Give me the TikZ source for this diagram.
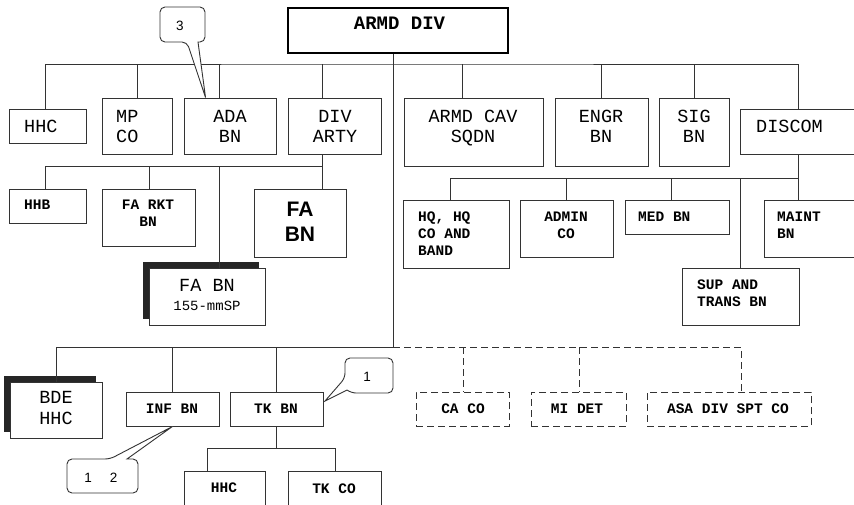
\documentclass[tikz,border=0pt]{standalone}
\usepackage{fontspec}
\setmainfont{Liberation Mono}
\newfontfamily\sansf{Liberation Sans}
\usetikzlibrary{shadows}
\begin{document}
\begin{tikzpicture}[x=1pt,y=-1pt,
  box/.style={draw=black!80, line width=0.9pt, fill=white, inner sep=0pt, rectangle},
  dbox/.style={box, dash pattern=on 7pt off 4pt},
  shbox/.style={box, general shadow={fill=black!85, shadow xshift=-6pt, shadow yshift=6pt}},
  conn/.style={draw=black!80, line width=0.9pt},
  dconn/.style={conn, dash pattern=on 7pt off 4pt},
  co/.style={draw=black!80, line width=0.9pt, fill=white},
  big/.style={font=\fontsize{18.5}{20.5}\selectfont, inner sep=0pt, anchor=base},
  bigw/.style={big, anchor=base west, align=left},
  sm/.style={font=\fontsize{14.5}{17}\selectfont\bfseries, inner sep=0pt, anchor=base},
  smw/.style={sm, anchor=base west, align=left},
  cnum/.style={font=\sansf\fontsize{13.5}{15}\selectfont, inner sep=0pt, anchor=base}
]
\useasboundingbox (0,0) rectangle (854,504);
\clip (0,0) rectangle (854,504);
\fill[white] (0,0) rectangle (854,504);

% boxes
\node[box, draw=black, line width=2pt, minimum width=220, minimum height=45] (armd) at (398,30.5) {};
\node[box, minimum width=77, minimum height=34] (hhc) at (47.5,126) {};
\node[box, minimum width=70, minimum height=56] (mpco) at (137,126) {};
\node[box, minimum width=92, minimum height=56] (ada) at (230,126) {};
\node[box, minimum width=93, minimum height=56] (divarty) at (334.5,126) {};
\node[box, minimum width=139, minimum height=68] (cav) at (473.5,132) {};
\node[box, minimum width=93, minimum height=68] (engr) at (601.5,132) {};
\node[box, minimum width=70, minimum height=68] (sig) at (694,132) {};
\node[box, minimum width=130, minimum height=45] (discom) at (805,131.5) {};
\node[box, minimum width=77, minimum height=34] (hhb) at (47.5,206) {};
\node[box, minimum width=93, minimum height=57] (farkt) at (148.5,217.5) {};
\node[box, minimum width=92, minimum height=68] (fabn) at (300,223) {};
\node[shbox, minimum width=116, minimum height=57] (fa155) at (207,296.5) {};
\node[box, minimum width=106, minimum height=68] (hq) at (456,234) {};
\node[box, minimum width=93, minimum height=57] (admin) at (566.5,228.5) {};
\node[box, minimum width=104, minimum height=34] (med) at (677,217) {};
\node[box, minimum width=106, minimum height=57] (maint) at (817,228.5) {};
\node[box, minimum width=117, minimum height=57] (sup) at (740.5,296.5) {};
\node[shbox, minimum width=92, minimum height=56] (bde) at (56,410) {};
\node[box, minimum width=93, minimum height=34] (inf) at (172.5,409) {};
\node[box, minimum width=93, minimum height=34] (tk) at (276.5,409) {};
\node[box, minimum width=81, minimum height=49] (hhc2) at (224.5,495.5) {};
\node[box, minimum width=93, minimum height=49] (tkco) at (334.5,495.5) {};
\node[dbox, minimum width=93, minimum height=34] (caco) at (462.5,409) {};
\node[dbox, minimum width=95, minimum height=34] (midet) at (578.5,409) {};
\node[dbox, minimum width=164, minimum height=34] (asa) at (729,409) {};

% texts (base anchor = baseline of last line)
\node[big, font=\fontsize{19}{21}\selectfont\bfseries] (armd-t) at (399.5,29.5) {ARMD DIV};
\node[bigw] (hhc-t) at (24,132) {HHC};
\node[bigw] (mpco-t) at (116,142.5) {MP\\CO};
\node[big, align=center] (ada-t) at (230,142.5) {ADA\\BN};
\node[big, align=center] (divarty-t) at (335,142.5) {DIV\\ARTY};
\node[big, align=center] (cav-t) at (473,142.5) {ARMD CAV\\SQDN};
\node[big, align=center] (engr-t) at (601,142.5) {ENGR\\BN};
\node[big, align=center] (sig-t) at (694,142.5) {SIG\\BN};
\node[bigw] (discom-t) at (756,132) {DISCOM};
\node[smw] (hhb-t) at (24,209) {HHB};
\node[sm, align=center] (farkt-t) at (148,226.5) {FA RKT\\BN};
\node[font=\sansf\bfseries\fontsize{21}{25}\selectfont, inner sep=0pt, anchor=base, align=center] (fabn-t) at (300,241.7) {FA\\BN};
\node[big] (fa155-t) at (207,291) {FA BN};
\node[font=\fontsize{14}{16}\selectfont, inner sep=0pt, anchor=base] (fa155-s) at (207,310) {155-mmSP};
\node[smw] (hq-t) at (418,255) {HQ, HQ\\CO AND\\BAND};
\node[sm, align=center] (admin-t) at (566,238) {ADMIN\\CO};
\node[smw] (med-t) at (638,221) {MED BN};
\node[smw] (maint-t) at (777,238) {MAINT\\BN};
\node[smw] (sup-t) at (697,306) {SUP AND\\TRANS BN};
\node[big, align=center] (bde-t) at (56,424) {BDE\\HHC};
\node[sm] (inf-t) at (172,413) {INF BN};
\node[sm] (tk-t) at (276,413) {TK BN};
\node[sm] (hhc2-t) at (224,492.7) {HHC};
\node[sm] (tkco-t) at (334,493) {TK CO};
\node[sm] (caco-t) at (463,413) {CA CO};
\node[sm] (midet-t) at (577,413) {MI DET};
\node[sm] (asa-t) at (728,413) {ASA DIV SPT CO};

% connectors: top level
\coordinate (tb) at (393,64);
\draw[conn] (45,0 |- hhc.north) |- (tb) -| (798,0 |- discom.north);
\foreach \x/\n in {137/mpco,219/ada,322/divarty,462/cav,601/engr,694/sig}
  \draw[conn] (\x,64) -- (\x,0 |- \n.north);
\draw[conn] (393,0 |- armd.south) -- (393,347);
% div arty
\draw[conn] (322,0 |- divarty.south) -- (322,0 |- fabn.north);
\draw[conn] (322,166) -- (45,166) -- (45,0 |- hhb.north);
\foreach \x/\n in {149/farkt,219/fa155}
  \draw[conn] (\x,166) -- (\x,0 |- \n.north);
% discom
\draw[conn] (798,0 |- discom.south) -- (798,0 |- maint.north);
\draw[conn] (450,0 |- hq.north) |- (798,178);
\foreach \x/\n in {566/admin,671/med,740/sup}
  \draw[conn] (\x,178) -- (\x,0 |- \n.north);
% bottom level
\draw[conn] (56,0 |- bde.north) |- (393,347);
\foreach \x/\n in {172/inf,276/tk}
  \draw[conn] (\x,347) -- (\x,0 |- \n.north);
\draw[dconn] (393,347) -| (741,0 |- asa.north);
\foreach \x/\n in {463/caco,579/midet}
  \draw[dconn] (\x,347) -- (\x,0 |- \n.north);
% tk bn
\draw[conn] (tk.south) -- (tk.south |- 0,448);
\draw[conn] (207,0 |- hhc2.north) |- (335,448) -- (335,0 |- tkco.north);

% callouts
\coordinate (t3) at ([xshift=22pt]ada.north west);
\draw[co] (t3) -- (198,42) [rounded corners=5pt] -- (205,42) -- (205,7) -- (160,7) -- (160,42) -- (187,42) [sharp corners] -- cycle;
\node[cnum] (c3) at (180,30) {3};
\coordinate (t1) at (325,401);
\draw[co] (t1) -- (347,390) [rounded corners=5pt] -- (351,393) -- (393,393) -- (393,358) -- (345,358) -- (345,378) [sharp corners] -- cycle;
\node[cnum] (c1) at (367,381) {1};
\coordinate (t12) at (inf.south);
\draw[co] (t12) -- (127,459) [rounded corners=5pt] -- (138,459) -- (138,493) -- (67,493) -- (67,459) -- (110,459) [sharp corners] -- cycle;
\node[cnum] (c12) at (101,482) {1\hspace{18pt}2};
\end{tikzpicture}
\end{document}
